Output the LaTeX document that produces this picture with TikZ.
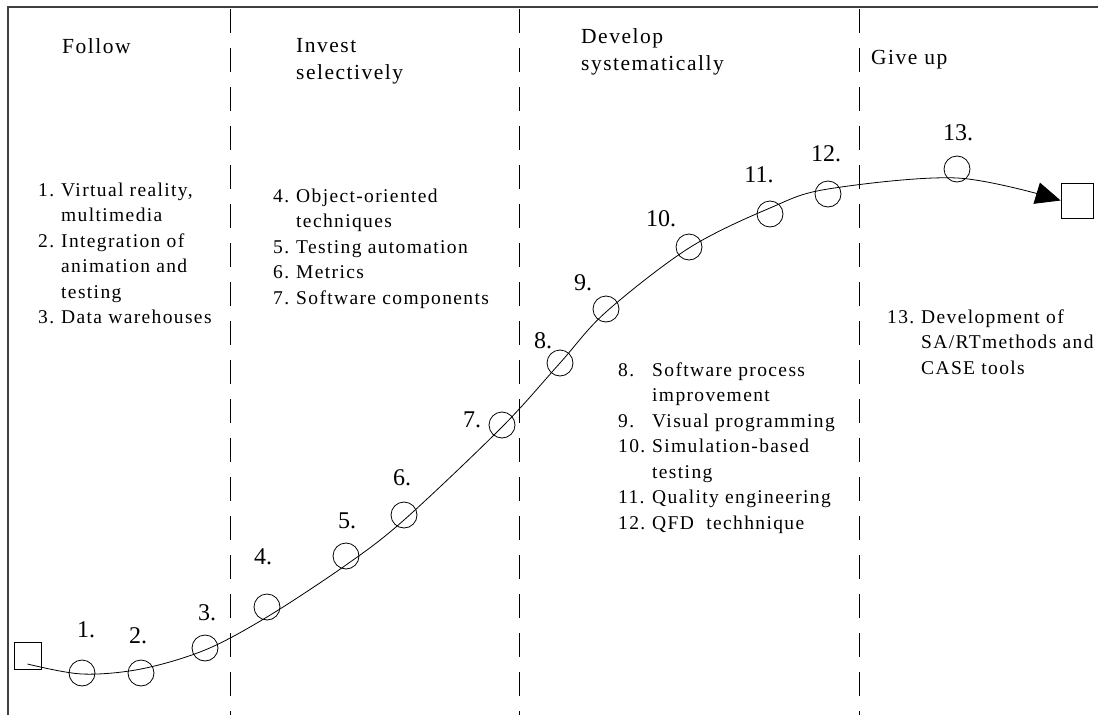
\documentclass[tikz,border=0pt]{standalone}
\usepackage{fontspec}
\setmainfont{Liberation Serif}
\newfontfamily\itemfont{Liberation Serif}[LetterSpace=7]
\newfontfamily\headfont{Liberation Serif}[LetterSpace=7]
\usetikzlibrary{arrows.meta}

\begin{document}
\begin{tikzpicture}[x=1pt,y=-1pt,
  frame/.style={line width=1.4pt, draw=black!75},
  divider/.style={line width=0.9pt, dash pattern=on 24pt off 15pt},
  stage/.style={circle, draw, line width=0.8pt, minimum size=26pt, inner sep=0pt},
  endbox/.style={draw, line width=0.8pt, inner sep=0pt},
  steplabel/.style={font=\fontsize{24}{24}\selectfont, inner sep=0pt},
  heading/.style={font=\headfont\fontsize{21.5}{27.5}\selectfont, anchor=base west, inner sep=0pt},
  itemlist/.style={font=\itemfont\fontsize{19.5}{25.5}\selectfont, anchor=base west, inner sep=0pt},
  trend/.style={line width=0.8pt}
]
\useasboundingbox (0,0) rectangle (1098,715);

% outer frame (top and left edges)
\coordinate (tl) at (8,7);
\coordinate (tr) at (1098,7);
\coordinate (bl) at (8,715);
\draw[frame] (tr) -- (tl) -- (bl);

% stage dividers
\foreach \x/\n in {230/d1, 519/d2, 859/d3} {
  \coordinate (\n top) at (\x,9);
  \coordinate (\n bot) at (\x,715);
  \draw[divider] (\n top) -- (\n bot);
}

% stage headings
\node[heading] (hfollow) at (62,53) {Follow};
\node[heading] (hinvest) at (296,52) {\begin{tabular}[t]{@{}l@{}}Invest\\selectively\end{tabular}};
\node[heading] (hdevelop) at (581,43) {\begin{tabular}[t]{@{}l@{}}Develop\\systematically\end{tabular}};
\node[heading] (hgiveup) at (871,64) {Give up};

% technology lists
\node[itemlist] (list1) at (38,196) {\begin{tabular}[t]{@{}p{23pt}@{}l@{}}
1. & Virtual reality,\\
   & multimedia\\
2. & Integration of\\
   & animation and\\
   & testing\\
3. & Data warehouses
\end{tabular}};
\node[itemlist] (list2) at (273,202) {\begin{tabular}[t]{@{}p{23pt}@{}l@{}}
4. & Object-oriented\\
   & techniques\\
5. & Testing automation\\
6. & Metrics\\
7. & Software components
\end{tabular}};
\node[itemlist] (list3) at (618,376) {\begin{tabular}[t]{@{}p{34pt}@{}l@{}}
8.  & Software process\\
    & improvement\\
9.  & Visual programming\\
10. & Simulation-based\\
    & testing\\
11. & Quality engineering\\
12. & QFD\ \ techhnique
\end{tabular}};
\node[itemlist] (list4) at (887,323) {\begin{tabular}[t]{@{}p{34pt}@{}l@{}}
13. & Development of\\
    & SA/RTmethods and\\
    & CASE tools
\end{tabular}};

% start and end boxes
\node[endbox, minimum width=27pt, minimum height=27pt] (start) at (27.5,655.5) {};
\node[endbox, minimum width=32pt, minimum height=35pt] (finish) at (1077,200.5) {};

% stage markers
\foreach \i/\x/\y in {1/82/673, 2/141/673, 3/205/648, 4/267/607, 5/346/556, 6/404/515,
                      7/502/425, 8/560/363, 9/606/309, 10/689/247, 11/770/214, 12/828/194, 13/957/169}
  \node[stage] (s\i) at (\x,\y) {};

% marker numbers
\foreach \i/\x/\y in {1/86/630, 2/138/636, 3/207/613, 4/263/557, 5/347/521, 6/402/478,
                      7/472/420, 8/543/341, 9/583/283, 10/661/219, 11/759/175, 12/826/154, 13/958/133}
  \node[steplabel] (n\i) at (\x,\y) {\i.};

% points of the adoption curve
\coordinate (c0) at ([yshift=-8.5pt]start.center);
\coordinate (c1) at (82,674);
\coordinate (c2) at (141,669);
\coordinate (c3) at (205,650);
\coordinate (c4) at (267,617);
\coordinate (c5) at (346,565);
\coordinate (c6) at (404,520);
\coordinate (c7) at (502,427);
\coordinate (c8) at (560,363);
\coordinate (c9) at (606,312);
\coordinate (c10) at (689,248);
\coordinate (c11) at (770,208);
\coordinate (c12) at (828,189);
\coordinate (c13) at (957,178);

\draw[trend, -{Triangle[length=25pt,width=22pt]}]
  plot[smooth, tension=0.55] coordinates {(c0) (c1) (c2) (c3) (c4) (c5) (c6) (c7) (c8) (c9) (c10) (c11) (c12) (c13) (finish.west)};
\end{tikzpicture}
\end{document}
